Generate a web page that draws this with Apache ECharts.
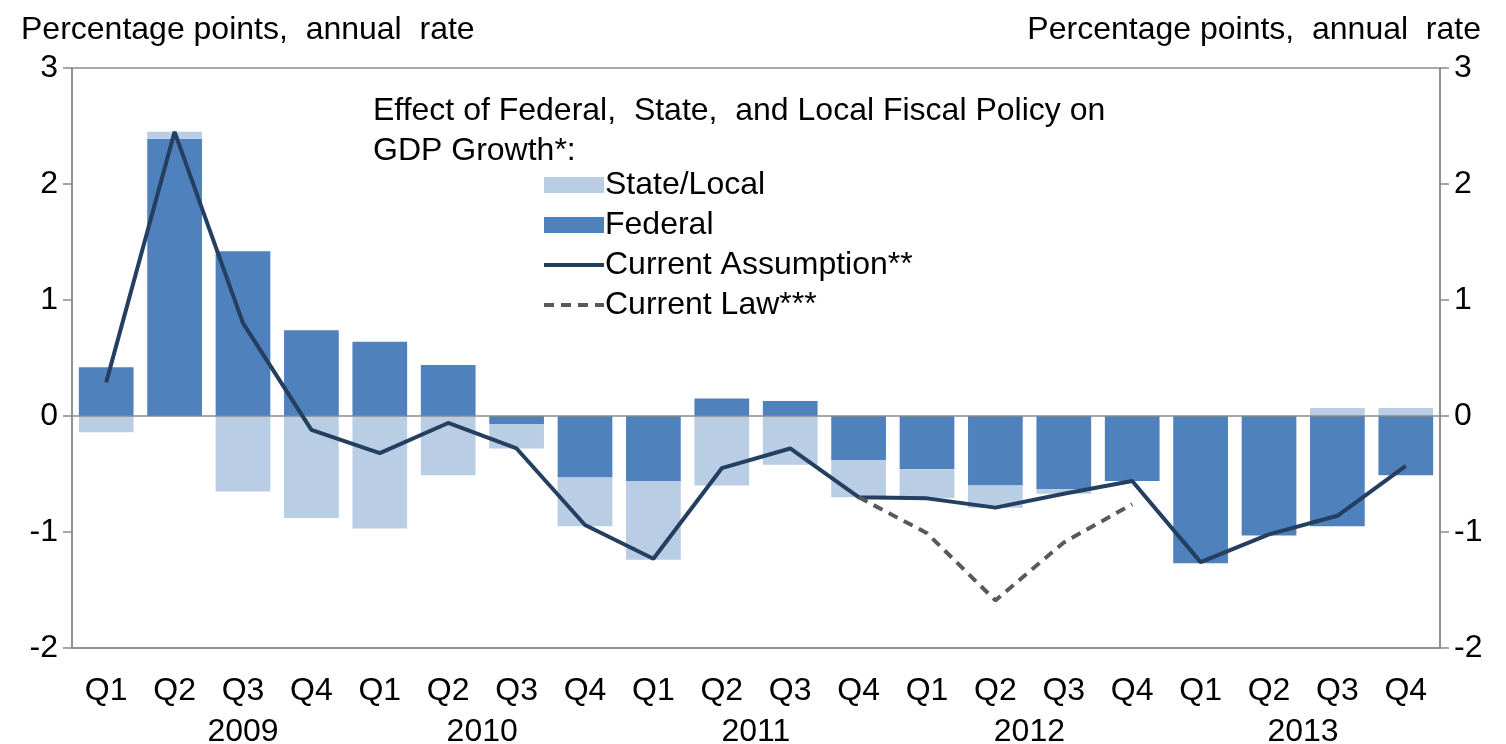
<!DOCTYPE html>
<html>
<head>
<meta charset="utf-8">
<script src="https://cdn.jsdelivr.net/npm/echarts@6/dist/echarts.min.js"></script>
<style>
  html, body { margin: 0; padding: 0; background: #fff; }
  #chart { width: 1506px; height: 744px; }
</style>
</head>
<body>
<div id="chart"></div>
<script>
  // quarters 2009 Q1 .. 2013 Q4
  let years = ['2009', '2010', '2011', '2012', '2013']
  let quarters = ['Q1', 'Q2', 'Q3', 'Q4']
  let categories = []
  years.forEach(function (y) {
    quarters.forEach(function (q) { categories.push(y + ' ' + q) })
  })

  let federal = [0.42, 2.39, 1.42, 0.74, 0.64, 0.44, -0.07, -0.53, -0.56, 0.15,
                 0.13, -0.38, -0.46, -0.60, -0.63, -0.56, -1.27, -1.03, -0.95, -0.51]
  let stateLocal = [-0.14, 0.06, -0.65, -0.88, -0.97, -0.51, -0.21, -0.42, -0.68, -0.60,
                    -0.42, -0.32, -0.25, -0.19, -0.04, 0, 0, 0, 0.07, 0.07]
  let currentAssumption = [0.29, 2.45, 0.80, -0.12, -0.32, -0.06, -0.28, -0.94, -1.23, -0.45,
                           -0.28, -0.70, -0.71, -0.79, -0.67, -0.56, -1.26, -1.02, -0.86, -0.43]
  let currentLaw = [null, null, null, null, null, null, null, null, null, null,
                    null, -0.70, -1.01, -1.59, -1.09, -0.76, null, null, null, null]

  // year label sits under this category index
  let yearLabelAt = {2: '2009', 5: '2010', 9: '2011', 13: '2012', 17: '2013'}

  let font = '"Liberation Sans", Arial, sans-serif'
  let fs = 32
  let axisGray = '#8a8a8a'

  let chart = echarts.init(document.getElementById('chart'))

  chart.setOption({
    animation: false,
    textStyle: { fontFamily: font },
    title: [
      {
        text: 'Percentage points,  annual  rate',
        left: 16, top: 9,
        textStyle: { fontSize: fs, fontWeight: 'normal', color: '#000', fontFamily: font }
      },
      {
        text: 'Percentage points,  annual  rate',
        right: 20, top: 9,
        textStyle: { fontSize: fs, fontWeight: 'normal', color: '#000', fontFamily: font }
      },
      {
        text: 'Effect of Federal,  State,  and Local Fiscal Policy on\nGDP Growth*:',
        left: 368, top: 86,
        textStyle: { fontSize: fs, fontWeight: 'normal', color: '#000', lineHeight: 40, fontFamily: font }
      }
    ],
    legend: {
      orient: 'vertical',
      left: 537, top: 164,
      itemWidth: 60,
      itemHeight: 16,
      itemGap: 8,
      data: [
        { name: 'State/Local', icon: 'rect' },
        { name: 'Federal', icon: 'rect' },
        { name: 'Current Assumption**', itemStyle: { opacity: 0 }, lineStyle: { width: 4 } },
        { name: 'Current Law***', itemStyle: { opacity: 0 }, lineStyle: { width: 4 } }
      ],
      textStyle: { fontSize: fs, color: '#000', padding: [0, 0, 0, -4], fontFamily: font }
    },
    grid: {
      left: 72, right: 66, top: 68, bottom: 96,
      outerBoundsMode: 'none',
      show: true,
      borderColor: axisGray,
      borderWidth: 1.5
    },
    xAxis: [
      {
        type: 'category',
        data: categories,
        axisLine: { onZero: false, lineStyle: { color: axisGray, width: 1.5 } },
        axisTick: { length: 10, lineStyle: { color: axisGray, width: 1.5 } },
        axisLabel: {
          interval: 0, margin: 27, fontSize: fs, color: '#000',
          formatter: function (v) { return v.split(' ')[1] }
        }
      },
      {
        type: 'category',
        data: categories,
        position: 'bottom',
        offset: 41,
        axisLine: { show: false },
        axisTick: { show: false },
        axisLabel: {
          interval: 0, margin: 27, fontSize: fs, color: '#000',
          formatter: function (v, i) {
            if (!yearLabelAt[i]) return ''
            return i === 2 ? yearLabelAt[i] : '{s|' + yearLabelAt[i] + '}'
          },
          rich: { s: { fontSize: fs, padding: [0, 0, 0, 68] } }
        }
      }
    ],
    yAxis: [
      {
        type: 'value', min: -2, max: 3, interval: 1, position: 'left',
        axisLine: { show: true, lineStyle: { color: axisGray, width: 1.5 } },
        axisTick: { show: true, length: 9, lineStyle: { color: axisGray, width: 1.5 } },
        axisLabel: { fontSize: fs, color: '#000', margin: 14 },
        splitLine: { show: false }
      },
      {
        type: 'value', min: -2, max: 3, interval: 1, position: 'right',
        axisLine: { show: true, lineStyle: { color: axisGray, width: 1.5 } },
        axisTick: { show: true, length: 9, lineStyle: { color: axisGray, width: 1.5 } },
        axisLabel: { fontSize: fs, color: '#000', margin: 14 },
        splitLine: { show: false }
      }
    ],
    series: [
      {
        name: 'Federal',
        type: 'bar',
        stack: 'fiscal',
        barWidth: '80%',
        data: federal,
        itemStyle: { color: '#4F81BD' },
        markLine: {
          silent: true,
          symbol: 'none',
          label: { show: false },
          lineStyle: { color: axisGray, width: 1.5, type: 'solid' },
          data: [{ yAxis: 0 }]
        }
      },
      {
        name: 'State/Local',
        type: 'bar',
        stack: 'fiscal',
        barWidth: '80%',
        data: stateLocal,
        itemStyle: { color: '#B9CDE5' }
      },
      {
        name: 'Current Assumption**',
        type: 'line',
        data: currentAssumption,
        symbol: 'none',
        z: 5,
        lineStyle: { color: '#243F60', width: 4 },
        itemStyle: { color: '#243F60' }
      },
      {
        name: 'Current Law***',
        type: 'line',
        data: currentLaw,
        symbol: 'none',
        z: 5,
        lineStyle: { color: '#595959', width: 4, type: [10, 7] },
        itemStyle: { color: '#595959' }
      }
    ]
  })
</script>
</body>
</html>
